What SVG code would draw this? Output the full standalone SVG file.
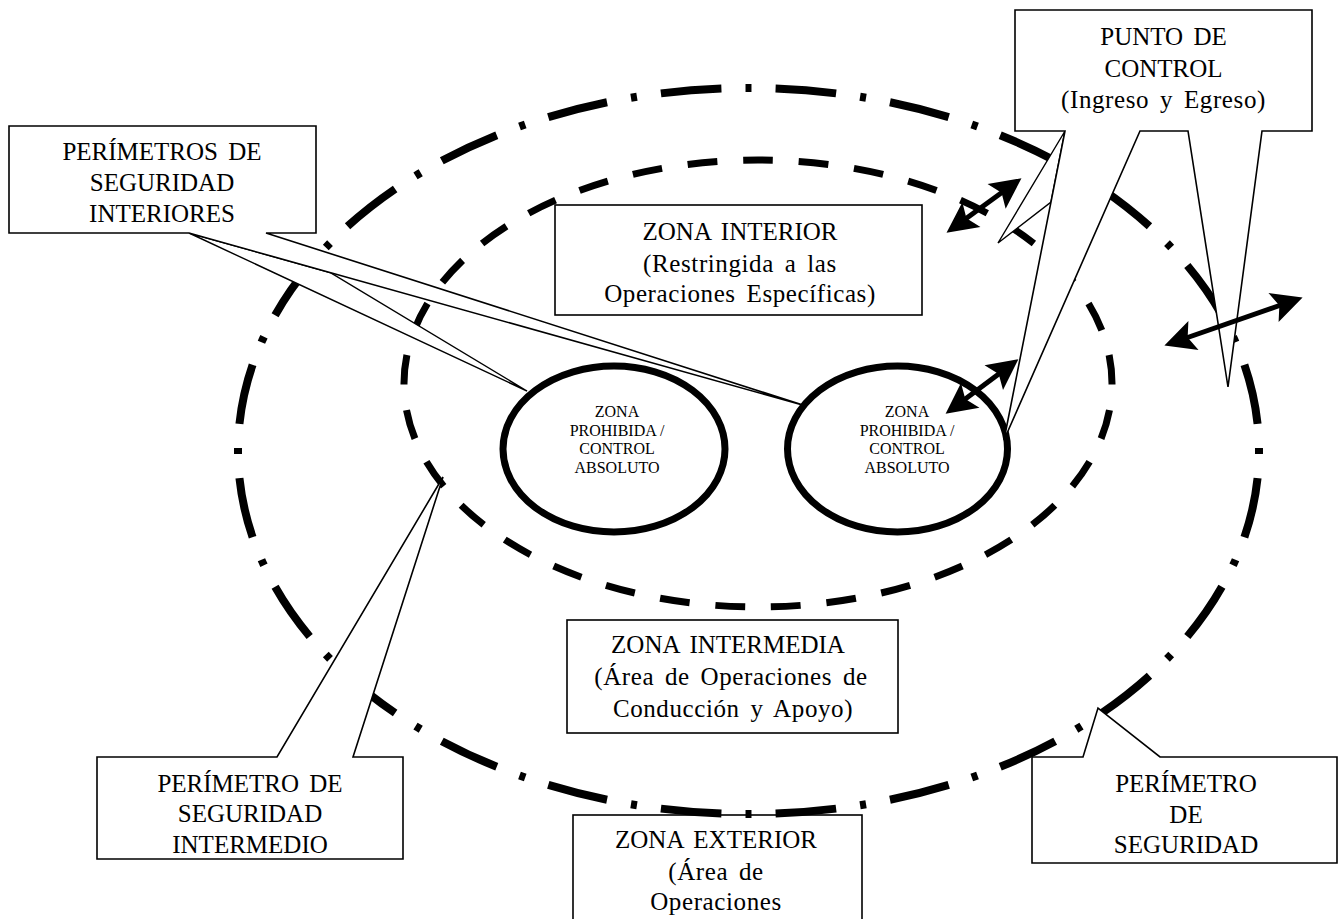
<svg xmlns="http://www.w3.org/2000/svg" width="1341" height="919" viewBox="0 0 1341 919">
<defs>
<style>
.bg{fill:#ffffff}
.box{fill:#ffffff;stroke:#000000;stroke-width:1.6;stroke-linejoin:miter}
.ptr{fill:#ffffff;stroke:#000000;stroke-width:1.4;stroke-linejoin:miter}
.outer{fill:none;stroke:#000000;stroke-width:8;stroke-dasharray:6 24 60 24;stroke-dashoffset:3}
.inner{fill:none;stroke:#000000;stroke-width:7;stroke-dasharray:30 26;stroke-dashoffset:15}
.circ{fill:none;stroke:#000000;stroke-width:7}
.t{font-family:"Liberation Serif","Times New Roman",serif;font-size:25px;fill:#000000;text-anchor:middle;word-spacing:4px}
.lc{letter-spacing:0.6px}
.s{font-family:"Liberation Serif","Times New Roman",serif;font-size:16px;fill:#000000;text-anchor:middle}
.arr{fill:none;stroke:#000000;stroke-width:5;marker-start:url(#head);marker-end:url(#head)}
</style>
<marker id="head" markerUnits="userSpaceOnUse" markerWidth="40" markerHeight="40" refX="0" refY="0" viewBox="-10 -12 26 24" orient="auto-start-reverse" overflow="visible">
<path d="M13,0 L-7,-10 L-3,0 L-7,10 Z" fill="#000000"/>
</marker>
</defs>
<rect class="bg" x="0" y="0" width="1341" height="919"/>

<g id="zona-exterior">
<rect class="box" x="573" y="815" width="289" height="110"/>
<text class="t" x="716" y="848">ZONA EXTERIOR</text>
<text class="t lc" x="716" y="880">(Área de</text>
<text class="t lc" x="716" y="910">Operaciones</text>
</g>

<g id="perimetro-seguridad-ellipse">
<path class="outer" pathLength="2736" d="M748.5,88 A510.5,363 0 1 1 748.5,814 A510.5,363 0 1 1 748.5,88 Z"/>
</g>

<g id="perimetro-intermedio-ellipse">
<path class="inner" pathLength="1848" d="M758,160 A354,223.5 0 1 1 758,607 A354,223.5 0 1 1 758,160 Z"/>
</g>

<g id="zona-prohibida-1">
<ellipse class="circ" cx="614" cy="449" rx="111" ry="83"/>
<text class="s" x="617" y="417">ZONA</text>
<text class="s" x="617" y="435.5">PROHIBIDA /</text>
<text class="s" x="617" y="454">CONTROL</text>
<text class="s" x="617" y="472.5">ABSOLUTO</text>
</g>

<g id="zona-prohibida-2">
<ellipse class="circ" cx="897.5" cy="449" rx="110" ry="83"/>
<text class="s" x="907" y="417">ZONA</text>
<text class="s" x="907" y="435.5">PROHIBIDA /</text>
<text class="s" x="907" y="454">CONTROL</text>
<text class="s" x="907" y="472.5">ABSOLUTO</text>
</g>

<g id="perimetros-interiores">
<path class="ptr" d="M189,233 L527,391 L330,272.5 Z"/>
<path class="box" d="M9,126 H316 V233 H266 L806,406 L189,233 H9 Z"/>
<text class="t" x="162" y="160">PERÍMETROS DE</text>
<text class="t" x="162" y="191">SEGURIDAD</text>
<text class="t" x="162" y="222">INTERIORES</text>
</g>

<g id="punto-de-control">
<path class="ptr" d="M1065,131 L998,243 L1051,202 Z"/>
<path class="box" d="M1015,10 H1312 V131 H1262 L1228,387 L1188,131 H1140 L1004,440 L1065,131 H1015 Z"/>
<text class="t" x="1163.5" y="45">PUNTO DE</text>
<text class="t" x="1163.5" y="77">CONTROL</text>
<text class="t lc" x="1163.5" y="108">(Ingreso y Egreso)</text>
</g>

<g id="zona-interior">
<rect class="box" x="555" y="205" width="367" height="110"/>
<text class="t" x="740" y="240">ZONA INTERIOR</text>
<text class="t lc" x="740" y="272">(Restringida a las</text>
<text class="t lc" x="740" y="302">Operaciones Específicas)</text>
</g>

<g id="zona-intermedia">
<rect class="box" x="567" y="620" width="331" height="113"/>
<text class="t" x="728" y="653">ZONA INTERMEDIA</text>
<text class="t lc" x="731" y="685">(Área de Operaciones de</text>
<text class="t lc" x="733" y="717">Conducción y Apoyo)</text>
</g>

<g id="perimetro-intermedio">
<path class="box" d="M97,757 H277 L443,477 L353,757 H403 V859 H97 Z"/>
<text class="t" x="250" y="792">PERÍMETRO DE</text>
<text class="t" x="250" y="822">SEGURIDAD</text>
<text class="t" x="250" y="853">INTERMEDIO</text>
</g>

<g id="perimetro-seguridad">
<path class="box" d="M1032,757 H1083 L1098,708 L1160,757 H1337 V863 H1032 Z"/>
<text class="t" x="1186" y="792">PERÍMETRO</text>
<text class="t" x="1186" y="823">DE</text>
<text class="t" x="1186" y="853">SEGURIDAD</text>
</g>

<g id="connectors">
<line class="arr" x1="962.7" y1="221.0" x2="1005.3" y2="190.0"/>
<line class="arr" x1="1183.3" y1="339.0" x2="1283.7" y2="304.0"/>
<line class="arr" x1="961.6" y1="401.8" x2="1002.4" y2="371.2"/>
</g>
</svg>
